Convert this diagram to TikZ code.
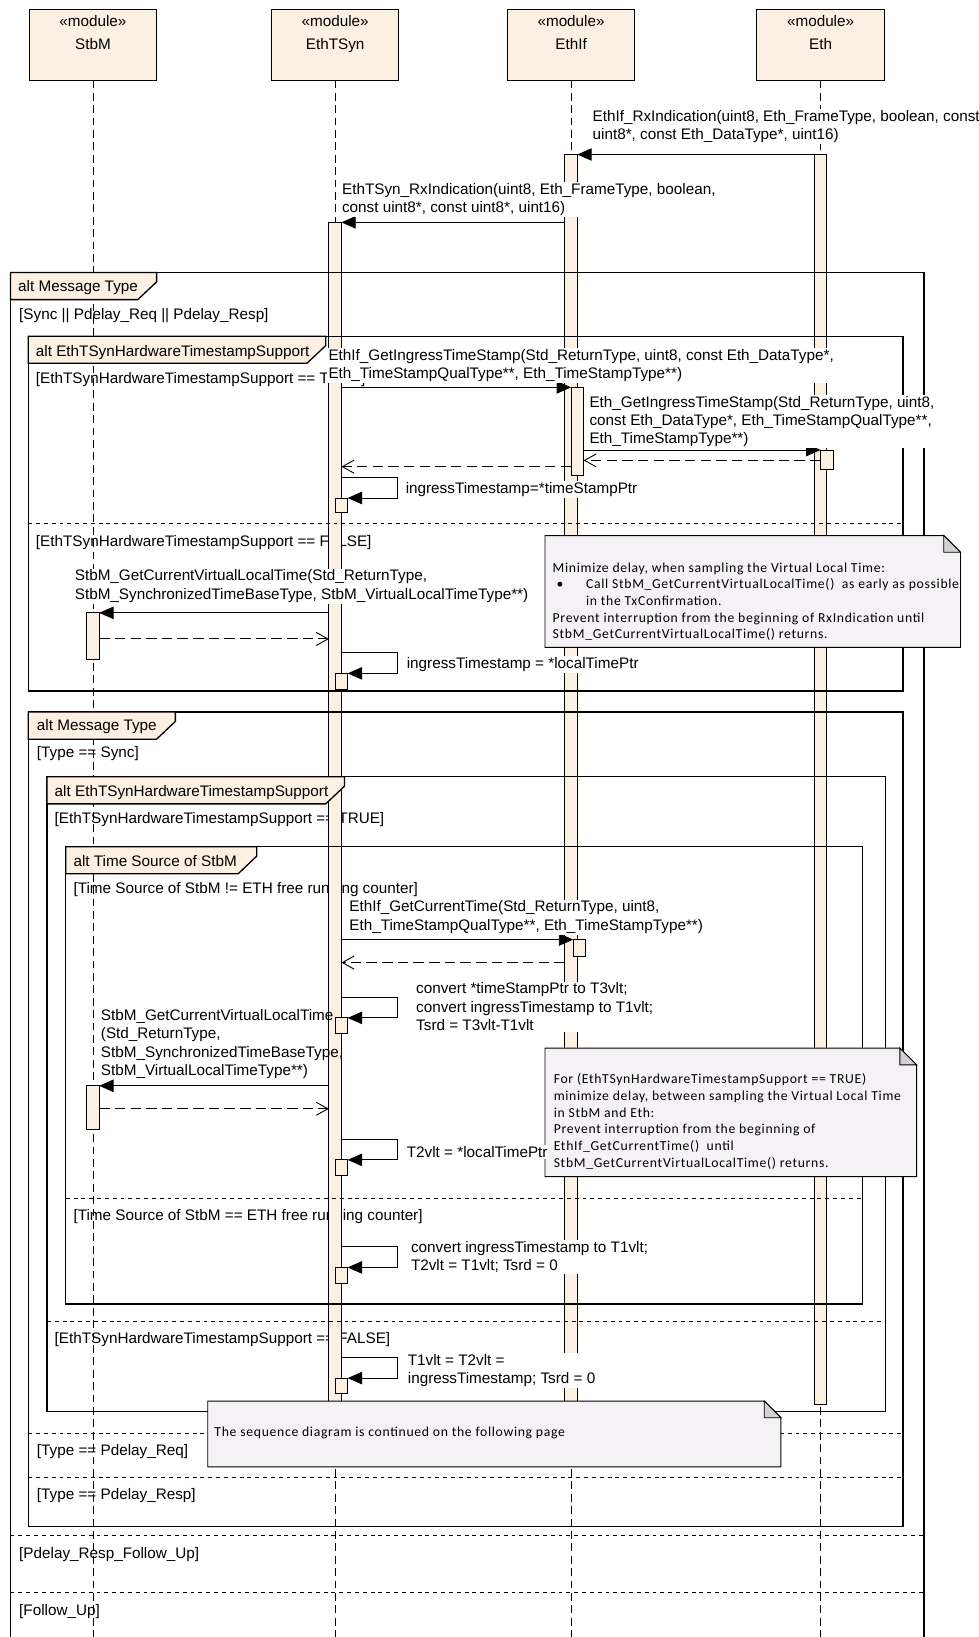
\documentclass[tikz,border=0pt]{standalone}
\usepackage{fontspec}
\setmainfont{Liberation Sans}
\newfontfamily\notefont[LetterSpace=5]{Carlito}
\usetikzlibrary{arrows.meta,fit}
\definecolor{modfill}{HTML}{FBF0E2}
\definecolor{notefill}{HTML}{F5F2F6}
\definecolor{foldfill}{HTML}{D4D1D5}
\tikzset{
  head/.style={draw, fill=modfill, minimum width=97.6pt, minimum height=54.4pt, inner sep=0pt, outer sep=0pt},
  life/.style={line width=0.6pt, dash pattern=on 6pt off 3.5pt},
  bar/.style={draw, fill=modfill, inner sep=0pt, outer sep=0pt},
  msg/.style={-{Triangle[length=11pt,width=9.5pt]}},
  ret/.style={dash pattern=on 8pt off 4pt, -{Straight Barb[length=9pt,width=10pt]}},
  lbl/.style={anchor=base west, align=left, fill=white, inner sep=1pt},
  guard/.style={anchor=base west, inner sep=0pt},
  frame/.style={line width=1pt},
  tab/.style={draw, fill=modfill, line width=1pt},
  sep/.style={line width=0.7pt, dash pattern=on 3pt off 3pt},
  note/.style={draw, fill=notefill},
  notetext/.style={anchor=base west, align=left, inner sep=0pt, font=\notefont\fontsize{10.5}{12.8}\selectfont}
}
\begin{document}
\begin{tikzpicture}[x=0.8pt, y=-0.8pt, line width=0.7pt, font=\fontsize{11.7}{14}\selectfont]
  \useasboundingbox (0,0) rectangle (937,1568);
  \coordinate (bottom) at (0,1580);

  \node[head] (stbm) at (89,43) {};
  \node[anchor=base] (stbm-s) at (89,25) {«module»};
  \node[anchor=base] (stbm-n) at (89,47) {StbM};
  \node[head] (tsyn) at (321,43) {};
  \node[anchor=base] (tsyn-s) at (321,25) {«module»};
  \node[anchor=base] (tsyn-n) at (321,47) {EthTSyn};
  \node[head] (ethif) at (547,43) {};
  \node[anchor=base] (ethif-s) at (547,25) {«module»};
  \node[anchor=base] (ethif-n) at (547,47) {EthIf};
  \node[head] (eth) at (786,43) {};
  \node[anchor=base] (eth-s) at (786,25) {«module»};
  \node[anchor=base] (eth-n) at (786,47) {Eth};

  \node[guard] (g1) at (18,306) {[Sync || Pdelay\_Req || Pdelay\_Resp]};
  \node[guard] (g2) at (34,367) {[EthTSynHardwareTimestampSupport == TRUE]};
  \node[guard] (g3) at (34,523) {[EthTSynHardwareTimestampSupport == FALSE]};
  \node[guard] (g4) at (35,726) {[Type == Sync]};
  \node[guard] (g5) at (52,789) {[EthTSynHardwareTimestampSupport == TRUE]};
  \node[guard] (g6) at (70,856) {[Time Source of StbM != ETH free running counter]};
  \node[guard] (g7) at (70,1169) {[Time Source of StbM == ETH free running counter]};
  \node[guard] (g8) at (52,1287) {[EthTSynHardwareTimestampSupport == FALSE]};
  \node[guard] (g9) at (35,1394) {[Type == Pdelay\_Req]};
  \node[guard] (g10) at (35,1436) {[Type == Pdelay\_Resp]};
  \node[guard] (g11) at (18,1493) {[Pdelay\_Resp\_Follow\_Up]};
  \node[guard] (g12) at (18,1547) {[Follow\_Up]};

  \foreach \m in {stbm,tsyn,ethif,eth}
  {\draw[life] (\m.south) -- (\m.south |- bottom);}

  \node[bar, fit={(780,148) (792,1345)}] (ethA) {};
  \node[bar, fit={(541,148) (553,1350)}] (ethifA) {};
  \node[bar, fit={(315,213) (327,1350)}] (tsynA) {};
  \node[bar, fit={(547,371) (559,455)}] (ethifB) {};
  \node[bar, fit={(786,431) (798,450)}] (ethB) {};
  \node[bar, fit={(321,477) (333,491)}] (tsynB) {};
  \node[bar, fit={(83,587) (95,632)}] (stbmA) {};
  \node[bar, fit={(321,645) (333,660)}] (tsynC) {};
  \node[bar, fit={(549,900) (561,916)}] (ethifC) {};
  \node[bar, fit={(321,975) (333,990)}] (tsynD) {};
  \node[bar, fit={(83,1040) (95,1082)}] (stbmB) {};
  \node[bar, fit={(321,1111) (333,1126)}] (tsynE) {};
  \node[bar, fit={(321,1214) (333,1229)}] (tsynF) {};
  \node[bar, fit={(321,1320) (333,1335)}] (tsynG) {};

  \draw[frame] (10,1580) |- (885,261) -- (885,1580);
  \draw[frame] (27,322) rectangle (865,662);
  \draw[frame] (27,682) rectangle (865,1462);
  \draw[frame] (45,744) rectangle (848,1352);
  \draw[frame] (63,811) rectangle (826,1249);

  \draw[sep] (10,1471) -- (885,1471);
  \draw[sep] (10,1525) -- (885,1525);
  \draw[sep] (27,501) -- (865,501);
  \draw[sep] (27,1373) -- (865,1373);
  \draw[sep] (27,1415) -- (865,1415);
  \draw[sep] (45,1266) -- (848,1266);
  \draw[sep] (63,1148) -- (826,1148);

  \draw[tab] (10,261) -- (150,261) -- (150,270) -- (132,287) -- (10,287) -- cycle;
  \node[guard] (t1) at (17,279) {alt Message Type};
  \draw[tab] (27,322) -- (312,322) -- (312,331) -- (294,348) -- (27,348) -- cycle;
  \node[guard] (t2) at (34,341) {alt EthTSynHardwareTimestampSupport};
  \draw[tab] (27,682) -- (168,682) -- (168,691) -- (150,708) -- (27,708) -- cycle;
  \node[guard] (t3) at (35,700) {alt Message Type};
  \draw[tab] (45,744) -- (330,744) -- (330,753) -- (312,770) -- (45,770) -- cycle;
  \node[guard] (t4) at (52,763) {alt EthTSynHardwareTimestampSupport};
  \draw[tab] (63,811) -- (246,811) -- (246,820) -- (228,837) -- (63,837) -- cycle;
  \node[guard] (t5) at (70,830) {alt Time Source of StbM};

  \draw[msg] (ethA.north west) -- (ethifA.north east);
  \draw[msg] (ethifA.west |- tsynA.north) -- (tsynA.north east);
  \draw[msg] (tsynA.east |- ethifB.north) -- (ethifB.north west);
  \draw[msg] (ethifB.east |- ethB.north) -- (ethB.north west);
  \coordinate (r1) at (0,441);
  \draw[ret] (ethB.west |- r1) -- (ethifB.east |- r1);
  \coordinate (r2) at (0,447);
  \draw[ret] (ethifB.west |- r2) -- (tsynA.east |- r2);
  \coordinate (s1) at (381,457);
  \draw[msg] (tsynA.east |- s1) -- (s1) |- (tsynB.north east);
  \draw[msg] (tsynA.west |- stbmA.north) -- (stbmA.north east);
  \coordinate (r3) at (0,612);
  \draw[ret] (stbmA.east |- r3) -- (tsynA.west |- r3);
  \coordinate (s2) at (381,625);
  \draw[msg] (tsynA.east |- s2) -- (s2) |- (tsynC.north east);
  \draw[msg] (tsynA.east |- ethifC.north) -- (ethifC.north west);
  \coordinate (r4) at (0,922);
  \draw[ret] (ethifA.west |- r4) -- (tsynA.east |- r4);
  \coordinate (s3) at (381,955);
  \draw[msg] (tsynA.east |- s3) -- (s3) |- (tsynD.north east);
  \draw[msg] (tsynA.west |- stbmB.north) -- (stbmB.north east);
  \coordinate (r5) at (0,1062);
  \draw[ret] (stbmB.east |- r5) -- (tsynA.west |- r5);
  \coordinate (s4) at (381,1091);
  \draw[msg] (tsynA.east |- s4) -- (s4) |- (tsynE.north east);
  \coordinate (s5) at (381,1194);
  \draw[msg] (tsynA.east |- s5) -- (s5) |- (tsynF.north east);
  \coordinate (s6) at (381,1300);
  \draw[msg] (tsynA.east |- s6) -- (s6) |- (tsynG.north east);

  \node[lbl] (l1) at (566,134) {EthIf\_RxIndication(uint8, Eth\_FrameType, boolean, const\\uint8*, const Eth\_DataType*, uint16)};
  \node[lbl] (l2) at (326,204) {EthTSyn\_RxIndication(uint8, Eth\_FrameType, boolean,\\const uint8*, const uint8*, uint16)};
  \node[lbl] (l3) at (313,363) {EthIf\_GetIngressTimeStamp(Std\_ReturnType, uint8, const Eth\_DataType*,\\Eth\_TimeStampQualType**, Eth\_TimeStampType**)};
  \node[lbl] (l4) at (563,425) {Eth\_GetIngressTimeStamp(Std\_ReturnType, uint8,\\const Eth\_DataType*, Eth\_TimeStampQualType**,\\Eth\_TimeStampType**)};
  \node[lbl] (l5) at (387,473) {ingressTimestamp=*timeStampPtr};
  \node[lbl] (l6) at (70,574) {StbM\_GetCurrentVirtualLocalTime(Std\_ReturnType,\\StbM\_SynchronizedTimeBaseType, StbM\_VirtualLocalTimeType**)};
  \node[lbl] (l7) at (388,640) {ingressTimestamp = *localTimePtr};
  \node[lbl] (l8) at (333,891) {EthIf\_GetCurrentTime(Std\_ReturnType, uint8,\\Eth\_TimeStampQualType**, Eth\_TimeStampType**)};
  \node[lbl] (l9) at (397,987) {convert *timeStampPtr to T3vlt;\\convert ingressTimestamp to T1vlt;\\Tsrd = T3vlt-T1vlt};
  \node[lbl, fill=none] (l10) at (95,1030) {StbM\_GetCurrentVirtualLocalTime\\(Std\_ReturnType,\\StbM\_SynchronizedTimeBaseType,\\StbM\_VirtualLocalTimeType**)};
  \node[lbl] (l12) at (392,1217) {convert ingressTimestamp to T1vlt;\\T2vlt = T1vlt; Tsrd = 0};
  \node[lbl] (l13) at (389,1325) {T1vlt = T2vlt =\\ingressTimestamp; Tsrd = 0};

  \draw[note] (522,513) -- (904,513) -- (920,529) -- (920,620) -- (522,620) -- cycle;
  \draw[fill=foldfill] (904,513) -- (904,529) -- (920,529) -- cycle;
  \node[notetext] (n1) at (529,612) {Minimize delay, when sampling the Virtual Local Time:\\
    \hspace*{3pt}\makebox[22.6pt][l]{\textbullet}Call StbM\_GetCurrentVirtualLocalTime()~ as early as possible\\
    \hspace*{25.6pt}in the TxConfirmation.\\
    Prevent interruption from the beginning of RxIndication until\\
    StbM\_GetCurrentVirtualLocalTime() returns.};

  \draw[note] (522,1004) -- (862,1004) -- (878,1020) -- (878,1127) -- (522,1127) -- cycle;
  \draw[fill=foldfill] (862,1004) -- (862,1020) -- (878,1020) -- cycle;
  \node[notetext] (n2) at (530,1118) {For (EthTSynHardwareTimestampSupport == TRUE)\\
    minimize delay, between sampling the Virtual Local Time\\
    in StbM and Eth:\\
    Prevent interruption from the beginning of\\
    EthIf\_GetCurrentTime()~ until\\
    StbM\_GetCurrentVirtualLocalTime() returns.};

  \node[lbl] (l11) at (388,1109) {T2vlt = *localTimePtr};

  \draw[note] (199,1342) -- (732,1342) -- (748,1358) -- (748,1405) -- (199,1405) -- cycle;
  \draw[fill=foldfill] (732,1342) -- (732,1358) -- (748,1358) -- cycle;
  \node[notetext] (n3) at (205,1376) {The sequence diagram is continued on the following page};
\end{tikzpicture}
\end{document}
